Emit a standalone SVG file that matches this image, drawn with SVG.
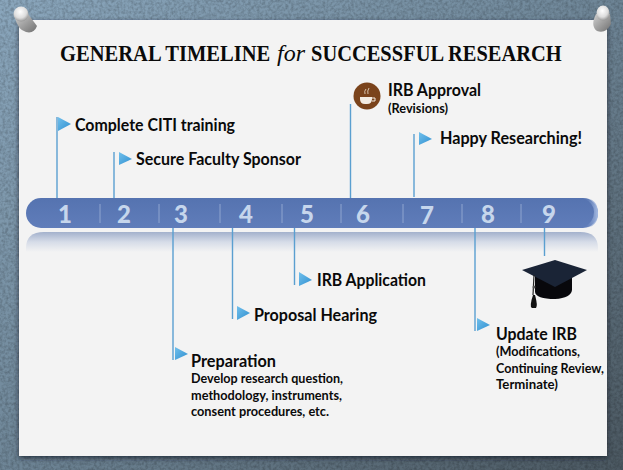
<svg xmlns="http://www.w3.org/2000/svg" width="623" height="470" viewBox="0 0 623 470">
<style>
.l{font-family:Lato,"Liberation Sans",sans-serif;font-weight:700;fill:#0a0a0a}
.b{font-size:16.500px}
.s{font-size:12.500px}
.h{font-family:"Liberation Serif",serif;font-size:24px;font-weight:700;fill:#0a0a0a}
.n{font-family:Lato,"Liberation Sans",sans-serif;font-weight:900;font-size:24px;fill:#c6d6ec;text-anchor:middle}
.c{stroke:#5a9fd0;stroke-width:1.400;fill:none}
.t{stroke:#8fa5cf;stroke-width:1;fill:none}
.f{fill:url(#flag)}
</style>
<defs>
<linearGradient id="bg" x1="0" y1="0" x2="1" y2="1"><stop offset="0" stop-color="#8aa6bc"/><stop offset=".45" stop-color="#71899b"/><stop offset="1" stop-color="#4b5861"/></linearGradient>
<linearGradient id="bar" x1="0" y1="0" x2="0" y2="1"><stop offset="0" stop-color="#5573b0"/><stop offset="1" stop-color="#607dba"/></linearGradient>
<linearGradient id="barEnd" x1="0" y1="0" x2="1" y2="0"><stop offset="0" stop-color="#5f7db9" stop-opacity="0"/><stop offset="1" stop-color="#a9bee4"/></linearGradient>
<linearGradient id="refl" x1="0" y1="0" x2="0" y2="1"><stop offset="0" stop-color="#a3b1cc"/><stop offset=".5" stop-color="#d6dce8"/><stop offset="1" stop-color="#f3f3f3"/></linearGradient>
<linearGradient id="flag" x1="0" y1="0" x2="1" y2="1"><stop offset="0" stop-color="#71c0ec"/><stop offset="1" stop-color="#2f8fd0"/></linearGradient>
<linearGradient id="pinBody" x1="0" y1="0" x2="1" y2="1"><stop offset="0" stop-color="#d0d0d0"/><stop offset="1" stop-color="#6f6f6f"/></linearGradient>
<radialGradient id="pin" cx=".45" cy=".35" r=".7"><stop offset="0" stop-color="#fff"/><stop offset=".6" stop-color="#dcdcdc"/><stop offset="1" stop-color="#8a8a8a"/></radialGradient>
<filter id="sh" x="-5%" y="-5%" width="110%" height="110%"><feDropShadow dx="0" dy="2" stdDeviation="2.500" flood-color="#1c2429" flood-opacity=".8"/></filter>
<filter id="grain" x="0" y="0" width="100%" height="100%"><feTurbulence type="fractalNoise" baseFrequency=".35" numOctaves="2" seed="4"/><feColorMatrix values="0 0 0 0 0  0 0 0 0 0  0 0 0 0 0  .9 0 0 0 -.32"/></filter>
</defs>
<rect id="background" width="623" height="470" fill="url(#bg)"/>
<rect id="grain-layer" width="623" height="470" filter="url(#grain)" opacity=".45"/>
<rect id="paper" x="19" y="20" width="588" height="436" fill="#f3f3f3" filter="url(#sh)"/>
<g id="pin-left"><path d="M15 18L28 14L37 26Q34 34 26 32Q18 30 15 18Z" fill="url(#pinBody)"/><circle cx="21" cy="14" r="7.500" fill="url(#pin)"/></g>
<g id="pin-right"><path d="M596 14L610 14L611 24Q606 34 597 31Q590 26 596 14Z" fill="url(#pinBody)"/><ellipse cx="603" cy="13" rx="6.500" ry="7.500" fill="url(#pin)"/></g>
<g id="title">
<text class="h" transform="translate(60 61) scale(.857 1)">GENERAL TIMELINE</text>
<text class="h" x="277" y="61" font-style="italic" style="font-weight:400">for</text>
<text class="h" transform="translate(311 61) scale(.853 1)">SUCCESSFUL RESEARCH</text>
</g>
<g id="timeline">
<path d="M26 252V248Q26 232 44 232H580Q598 232 598 248V252Z" fill="url(#refl)"/>
<rect x="26" y="198" width="572" height="30" rx="15" fill="url(#bar)"/>
<path d="M583 198Q598 198 598 213Q598 228 583 228Q594 222 594 212Q594 203 583 198Z" fill="url(#barEnd)"/>
<path class="t" d="M100 204V223M159 204V223M220 204V223M282 204V223M341 204V223M403 204V223M462 204V223M521 204V223"/>
<text class="n" x="65" y="223">1</text><text class="n" x="124" y="223">2</text><text class="n" x="181" y="223">3</text><text class="n" x="246" y="223">4</text><text class="n" x="307" y="223">5</text><text class="n" x="363" y="223">6</text><text class="n" x="427" y="224">7</text><text class="n" x="488" y="223">8</text><text class="n" x="549" y="223">9</text>
</g>
<g id="connectors">
<path class="c" d="M57 117V198M114 152V198M350.500 104V198M414 134V197M173 228V360M232.500 228V319M294.500 228V285M475 228V331M544.500 228V256"/>
</g>
<g id="node-1"><polygon class="f" points="58,117 71,124 58,131"/><text class="l b" x="75" y="131" textLength="160" lengthAdjust="spacingAndGlyphs">Complete CITI training</text></g>
<g id="node-2"><polygon class="f" points="119,152 132,159 119,165"/><text class="l b" x="136" y="165" textLength="165" lengthAdjust="spacingAndGlyphs">Secure Faculty Sponsor</text></g>
<g id="node-6"><circle cx="367" cy="96" r="13.500" fill="#7a431b"/><path d="M360 97H372V99Q372 104 367 104H365Q360 104 360 99Z" fill="#f3ece3"/><path d="M372 98H375V101H372" fill="none" stroke="#f3ece3"/><path d="M365 94Q364 91 366 89M368 94Q367 91 369 88" fill="none" stroke="#d8c4ad"/><text class="l b" x="388" y="96" textLength="93" lengthAdjust="spacingAndGlyphs">IRB Approval</text><text class="l s" x="388" y="113" textLength="60" lengthAdjust="spacingAndGlyphs">(Revisions)</text></g>
<g id="node-7"><polygon class="f" points="419,132 432,139 419,145"/><text class="l b" x="440" y="144" textLength="142" lengthAdjust="spacingAndGlyphs">Happy Researching!</text></g>
<g id="node-3"><polygon class="f" points="175,347 188,354 175,360"/><text class="l b" x="191" y="367" textLength="85" lengthAdjust="spacingAndGlyphs">Preparation</text><text class="l s" x="191" y="383" textLength="152" lengthAdjust="spacingAndGlyphs">Develop research question,</text><text class="l s" x="191" y="400" textLength="151" lengthAdjust="spacingAndGlyphs">methodology, instruments,</text><text class="l s" x="191" y="416" textLength="138" lengthAdjust="spacingAndGlyphs">consent procedures, etc.</text></g>
<g id="node-4"><polygon class="f" points="237,306 250,313 237,320"/><text class="l b" x="254" y="321" textLength="123" lengthAdjust="spacingAndGlyphs">Proposal Hearing</text></g>
<g id="node-5"><polygon class="f" points="299,272 312,280 299,286"/><text class="l b" x="317" y="286" textLength="109" lengthAdjust="spacingAndGlyphs">IRB Application</text></g>
<g id="node-8"><polygon class="f" points="477,318 490,325 477,331"/><text class="l b" x="496" y="340" textLength="81" lengthAdjust="spacingAndGlyphs">Update IRB</text><text class="l s" x="496" y="356" textLength="84" lengthAdjust="spacingAndGlyphs">(Modifications,</text><text class="l s" x="496" y="373" textLength="108" lengthAdjust="spacingAndGlyphs">Continuing Review,</text><text class="l s" x="496" y="389" textLength="62" lengthAdjust="spacingAndGlyphs">Terminate)</text></g>
<g id="node-9"><path d="M535 276V292Q536 299 555 299Q571 298 572 290V276Z" fill="#08080c"/><polygon points="522,270 555,260 587,270 555,287" fill="#1a2436"/><path d="M534 275L533 295" stroke="#222" stroke-width="1.200"/><circle cx="534" cy="287" r="1.500" fill="#555"/><path d="M533 295Q529 307 532 308H536Q538 306 535 295Z" fill="#111"/></g>
</svg>
